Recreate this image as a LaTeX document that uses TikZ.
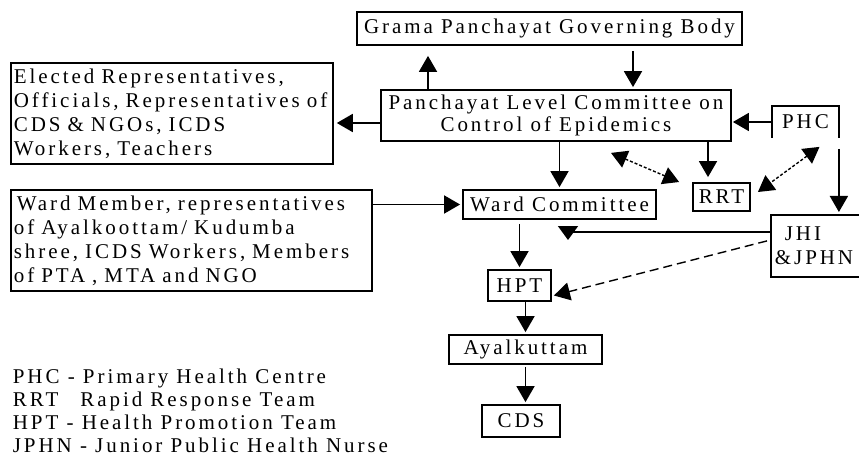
\documentclass[tikz,border=0pt]{standalone}
\usepackage{fontspec}
\setmainfont{Liberation Serif}[LetterSpace=14]
\usetikzlibrary{arrows.meta}

\tikzset{
  box/.style={draw, line width=1.8pt, inner sep=3pt, align=center},
  plainbox/.style={inner sep=3pt, align=left},
  dots/.style={dash pattern=on 3pt off 2pt, line width=1.4pt},
  dashes/.style={dash pattern=on 9pt off 5pt, line width=1.4pt}
}

\begin{document}
\begin{tikzpicture}[x=1pt, y=-1pt, ->, >={Triangle[width=18pt,length=16pt]}, line width=1.8pt,
    every node/.style={font=\fontsize{21}{24}\selectfont}]
  \useasboundingbox (0,0) rectangle (859,457);

  \node[box, minimum width=385pt, minimum height=33pt] (grama) at (549.5,28.5) {Grama Panchayat Governing Body};
  \node[box, align=left, anchor=north west, text width=316pt, minimum height=101pt] (elected) at (10,62)
    {Elected Representatives,\\Officials, Representatives of\\CDS \& NGOs, ICDS\\Workers, Teachers};
  \node[box, minimum width=350pt, minimum height=51pt, font=\fontsize{21}{22}\selectfont] (plc) at (556,115.5)
    {Panchayat Level Committee on\\Control of Epidemics};
  \node[plainbox, align=center, minimum width=65pt, minimum height=30pt] (phc) at (805.5,122) {PHC};
  \node[box, minimum width=57pt, minimum height=28pt] (rrt) at (721.5,197) {RRT};
  \node[box, minimum width=193pt, minimum height=29pt] (wc) at (559.5,204.5) {Ward Committee};
  \node[box, align=left, anchor=north west, text width=355pt, minimum height=101pt] (wm) at (10,189)
    {\hspace{3pt}Ward Member, representatives\\of Ayalkoottam/ Kudumba\\shree, ICDS Workers, Members\\of PTA , MTA and NGO};
  \node[plainbox, anchor=north west, text width=120pt, minimum height=60pt] (jhi) at (771,215)
    {\hspace{10pt}JHI\\\&JPHN};
  \node[box, minimum width=63pt, minimum height=31pt] (hpt) at (519.5,285.5) {HPT};
  \node[box, minimum width=153pt, minimum height=29pt] (ayal) at (525.5,349.5) {Ayalkuttam};
  \node[box, minimum width=78pt, minimum height=32pt] (cds) at (521,421) {CDS};
  \node[plainbox, anchor=north west, font=\fontsize{21}{23}\selectfont] (legend) at (9,365)
    {PHC - Primary Health Centre\\RRT\hspace{22pt}Rapid Response Team\\HPT - Health Promotion Team\\JPHN - Junior Public Health Nurse};

  % open sided boxes
  \draw[-] (phc.south west) -- (phc.north west) -- (phc.north east) -- (phc.south east);
  \draw[-] (jhi.north east) -- (jhi.north west) -- (jhi.south west) -- (jhi.south east);

  \coordinate (upx) at (428,0);
  \coordinate (downx) at (633,0);
  \coordinate (rrtx) at (708,0);
  \coordinate (elecy) at (0,123);
  \coordinate (jw) at (771,232);
  \coordinate (jt) at (568,232);

  \draw[shorten >=10pt] (plc.north -| upx) -- (grama.south -| upx);
  \draw[shorten <=5pt, shorten >=2pt] (grama.south -| downx) -- (plc.north -| downx);
  \draw[shorten >=3pt] (plc.west |- elecy) -- (elected.east |- elecy);
  \draw[shorten >=1pt] (phc.west) -- (phc.west -| plc.east);
  \draw[shorten >=2pt] (plc.south -| wc.north) -- (wc.north);
  \draw[shorten >=5pt] (plc.south -| rrtx) -- (rrt.north -| rrtx);
  \draw[<->, dots] ([xshift=55pt,yshift=-11pt]plc.south) -- ([xshift=-13pt,yshift=15pt]rrt.west);
  \draw[<->, dots] ([xshift=14pt,yshift=-9pt]phc.south) -- ([xshift=7pt,yshift=5pt]rrt.east);
  \draw[shorten <=11pt, shorten >=3pt] (phc.south east) -- (phc.south east |- jhi.north);
  \draw[shorten >=2pt] (wm.east |- wc.west) -- (wc.west);
  \draw[-{Triangle[width=20pt,length=14pt]}] (jw) -- (jt) -- ++(0,8);
  \draw[dashes] ([xshift=-4pt,yshift=5pt]jhi.west) -- ([xshift=2pt,yshift=-10pt]hpt.east);
  \draw[shorten <=4pt, shorten >=2pt] (hpt.north |- wc.south) -- (hpt.north);
  \draw[shorten >=2pt] (ayal.north |- hpt.south) -- (ayal.north);
  \draw[shorten <=2pt, shorten >=2pt] (ayal.south) -- (ayal.south |- cds.north);
\end{tikzpicture}
\end{document}
